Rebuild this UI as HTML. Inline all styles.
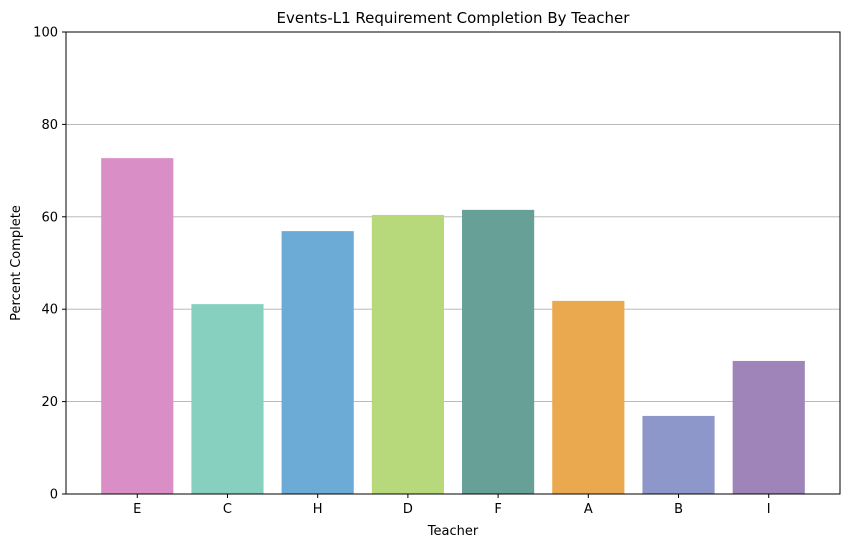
<!DOCTYPE html>
<html><head><meta charset="utf-8"><style>
body{margin:0;background:#fff;font-family:"Liberation Sans","DejaVu Sans",sans-serif}
svg text{font-family:"DejaVu Sans","Liberation Sans",sans-serif;fill:#000}
</style></head><body>
<svg id="chart" width="850" height="547" viewBox="0 0 850 547" xmlns="http://www.w3.org/2000/svg">
<rect x="0" y="0" width="850" height="547" fill="#fff"/>
<g id="grid"></g><g id="bars"></g><g id="axes"></g>
<text x="453" y="23" font-size="15" text-anchor="middle">Events-L1 Requirement Completion By Teacher</text>
<text x="453" y="535" font-size="13" text-anchor="middle">Teacher</text>
<text x="0" y="0" font-size="13" text-anchor="middle" transform="translate(20,263) rotate(-90)">Percent Complete</text>
</svg>
<script>
const categories=["E","C","H","D","F","A","B","I"];
const values=[72.7,41.1,56.9,60.4,61.5,41.8,16.9,28.8];
const colors=["#d98fc6","#87d0c0","#6cabd6","#b8d87c","#66a096","#eaa94f","#8e97ca","#9e84b9"];
const yTicks=[0,20,40,60,80,100];
const L=66,R=840,T=32,B=494;
const xMin=-0.79,xMax=7.79;
const xs=i=>L+(i-xMin)/(xMax-xMin)*(R-L);
const ys=v=>B-v/100*(B-T);
const NS="http://www.w3.org/2000/svg";
function mk(tag,attrs,parent){const e=document.createElementNS(NS,tag);for(const k in attrs)e.setAttribute(k,attrs[k]);parent.appendChild(e);return e;}
const grid=document.getElementById('grid'),bars=document.getElementById('bars'),axes=document.getElementById('axes');
yTicks.forEach(t=>{
  if(t>0&&t<100){const g=mk('line',{x1:L,x2:R,y1:ys(t),y2:ys(t),stroke:'#b0b0b0','stroke-width':0.9},grid);
  
  }
  const tk=mk('line',{x1:L-4,x2:L,y1:ys(t),y2:ys(t),stroke:'#000'},axes);
  
  
  const tx=mk('text',{x:L-8,y:ys(t)+4.5,'font-size':13,'text-anchor':'end'},axes);tx.textContent=t;
  
  
});
const bw=0.8*(R-L)/(xMax-xMin);
categories.forEach((c,i)=>{
  const r=mk('rect',{x:xs(i)-bw/2,y:ys(values[i]),width:bw,height:B-ys(values[i]),fill:colors[i]},bars);
  
  
  const tk=mk('line',{x1:xs(i),x2:xs(i),y1:B,y2:B+4,stroke:'#000'},axes);
  
  
  const tx=mk('text',{x:xs(i),y:B+19,'font-size':13,'text-anchor':'middle'},axes);tx.textContent=c;
  
  
});
const fr=mk('rect',{x:L,y:T,width:R-L,height:B-T,fill:'none',stroke:'#000','stroke-width':1},axes);


</script>
</body></html>
